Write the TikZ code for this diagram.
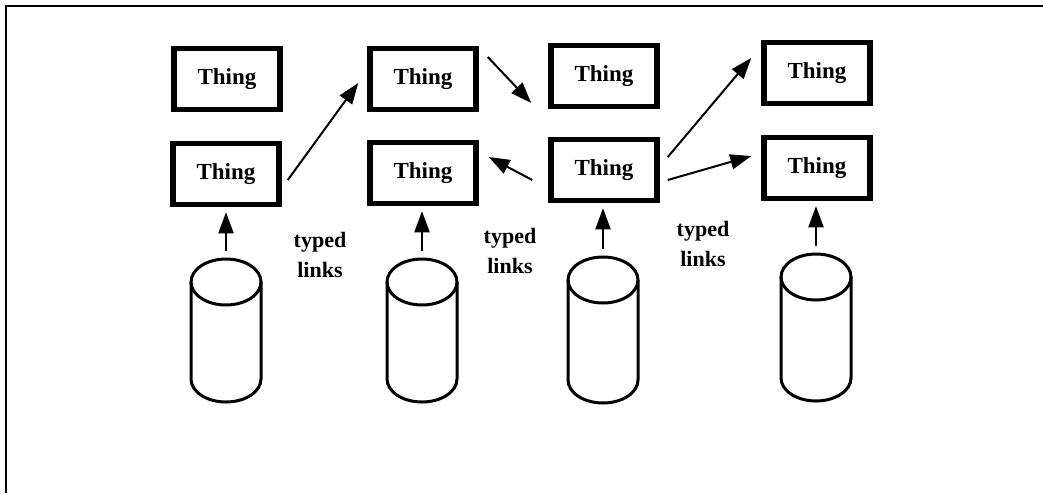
\documentclass[tikz,border=0pt]{standalone}
\usepackage{fontspec}
\setmainfont{Liberation Serif}
\usetikzlibrary{arrows.meta,calc}
\begin{document}
\begin{tikzpicture}[x=1pt,y=-1pt,
  thing/.style={draw,line width=5.5pt,minimum width=106pt,minimum height=61pt,inner sep=0pt,
    font=\bfseries\fontsize{23}{26}\selectfont},
  lbl/.style={align=center,inner sep=0pt,font=\bfseries\fontsize{22}{30}\selectfont},
  arr/.style={line width=2pt,-{Triangle[length=21pt,width=15pt]}},
  cyl/.style={line width=3pt},
  frame/.style={line width=2pt}]
\useasboundingbox (0,0) rectangle (1043,493);
% frame
\draw[frame] (6,493) -- (6,6) -- (1043,6);
% boxes
\node[thing] (A1) at (227,79) {Thing};
\node[thing] (A2) at (226,174) {Thing};
\node[thing] (B1) at (423,79) {Thing};
\node[thing] (B2) at (423,173) {Thing};
\node[thing] (C1) at (604,76) {Thing};
\node[thing] (C2) at (604,170) {Thing};
\node[thing] (D1) at (817,73) {Thing};
\node[thing] (D2) at (817,168) {Thing};
% cylinders
\foreach \cx/\ty/\by/\nm in {226/282/379/cyl1, 422/282/379/cyl2, 603/280/380/cyl3, 816/277/378/cyl4}{
  \draw[cyl] (\cx,\ty) ellipse [x radius=35,y radius=23];
  \draw[cyl] (\cx-35,\ty) -- (\cx-35,\by) arc[start angle=180,end angle=0,x radius=35,y radius=23] -- (\cx+35,\ty);
  \coordinate (\nm) at (\cx,\ty-23);
}
% up arrows
\draw[arr] ($(cyl1)+(0,-8)$) -- ($(cyl1 |- A2.south)+(0,5)$);
\draw[arr] ($(cyl2)+(0,-8)$) -- ($(cyl2 |- B2.south)+(0,5)$);
\draw[arr] ($(cyl3)+(0,-8)$) -- ($(cyl3 |- C2.south)+(0,5)$);
\draw[arr] ($(cyl4)+(0,-8)$) -- ($(cyl4 |- D2.south)+(0,5)$);
% typed links
\draw[arr] ($(A2.east)+(6,6)$) -- ($(B1.west)+(-9,4)$);
\draw[arr] ($(B1.east)+(9,-22)$) -- ($(C1.west)+(-17,27)$);
\draw[arr] ($(C2.west)+(-16,10)$) -- ($(B2.east)+(10,-16)$);
\draw[arr] ($(C2.east)+(8,-13)$) -- ($(D1.west)+(-10,-15)$);
\draw[arr] ($(C2.east)+(8,10)$) -- ($(D2.west)+(-10,-12)$);
% labels
\node[lbl] (L1) at (320,255) {typed\\links};
\node[lbl] (L2) at (510,251) {typed\\links};
\node[lbl] (L3) at (703,244) {typed\\links};
\end{tikzpicture}
\end{document}
